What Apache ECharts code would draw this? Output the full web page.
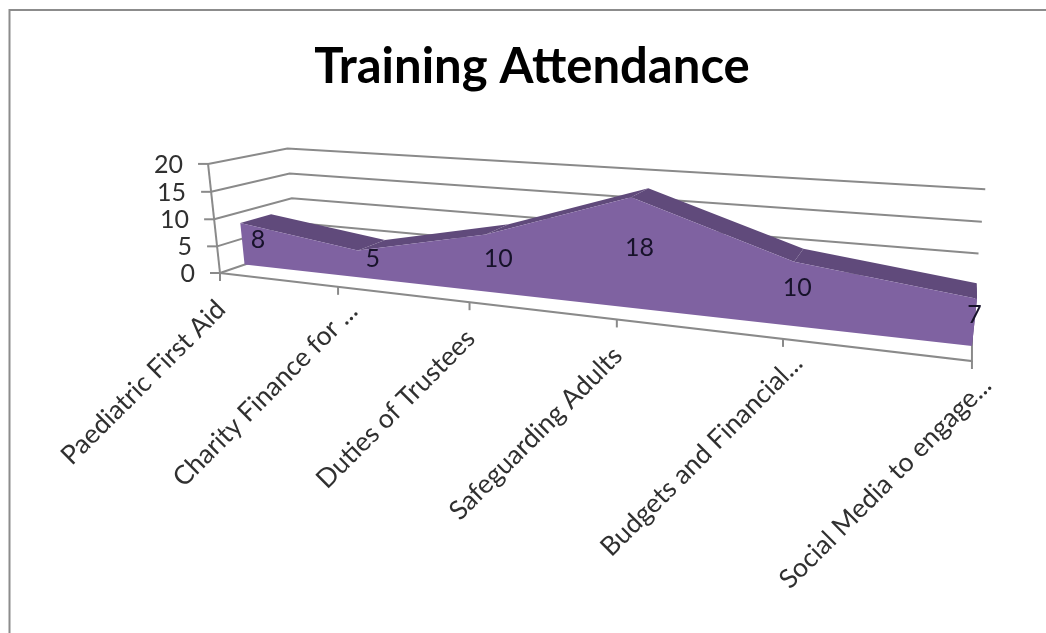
<!DOCTYPE html>
<html>
<head>
<meta charset="utf-8">
<title>Training Attendance</title>
<style>
  html, body { margin: 0; padding: 0; background: #fff; }
  #chart { width: 1046px; height: 633px; }
</style>
<script src="https://cdn.jsdelivr.net/npm/echarts@6/dist/echarts.min.js"></script>
</head>
<body>
<div id="chart"></div>
<script>
const categories = [
  'Paediatric First Aid',
  'Charity Finance for ...',
  'Duties of Trustees',
  'Safeguarding Adults',
  'Budgets and Financial...',
  'Social Media to engage...'
]
const attendance = [8, 5, 10, 18, 10, 7]
const yTicks = [0, 5, 10, 15, 20]

const FONT = 'Lato, "Open Sans", sans-serif'
const LINE = '#8a8a8a'
const TEXT = '#303030'
const FRONT = '#7f62a1'
const TOP = '#604a7b'

// the area sits between these two depths of the box (0 = front, 1 = back)
const AREA_NEAR = 0.3
const AREA_FAR = 0.7
const AREA_MID = 0.5

// perspective camera of the 3D box: u across, d into the picture, v up, all 0..1
const cam = {
  x: [220, 504.1, 109.3, -18.2],
  y: [273, -4.05, 1.69, -114],
  w: [1, -0.255, 0.1124, -0.03]
}

const project = (u, d, v) => {
  const dot = (c) => c[0] + c[1] * u + c[2] * d + c[3] * v
  const w = dot(cam.w)
  return [dot(cam.x) / w, dot(cam.y) / w]
}

// hidden grid gives the scales, the result is then pushed through the camera
const place = (params, api, index, value, d) => {
  const p = api.coord([index, value])
  const sys = params.coordSys
  return project((p[0] - sys.x) / sys.width, d, (sys.y + sys.height - p[1]) / sys.height)
}

const stroke = { stroke: LINE, lineWidth: 2, fill: null }

const renderWalls = (params, api) => {
  const value = api.value(1)
  const last = categories.length - 1
  const start = place(params, api, 0, value, 0)
  const children = [
    {
      type: 'polyline',
      shape: {
        points: [start, place(params, api, 0, value, 1), place(params, api, last, value, 1)]
      },
      style: stroke
    },
    {
      type: 'line',
      shape: { x1: start[0] - 10, y1: start[1], x2: start[0], y2: start[1] },
      style: stroke
    },
    {
      type: 'text',
      style: {
        text: String(value),
        x: start[0] - 25,
        y: start[1] + 1,
        align: 'right',
        verticalAlign: 'middle',
        font: '25px ' + FONT,
        fill: TEXT
      }
    }
  ]
  if (params.dataIndex === 0) {
    const top = place(params, api, 0, yTicks[yTicks.length - 1], 0)
    const right = place(params, api, last, 0, 0)
    children.push(
      { type: 'polyline', shape: { points: [top, start] }, style: stroke },
      { type: 'polyline', shape: { points: [start, right, place(params, api, last, 0, 1)] }, style: stroke }
    )
  }
  return { type: 'group', children }
}

const renderCategory = (params, api) => {
  const i = api.value(0)
  const foot = place(params, api, i, 0, 0)
  // cut-off names run a little further along the slant
  const cut = categories[i].endsWith('...')
  return {
    type: 'group',
    children: [
      {
        type: 'line',
        shape: { x1: foot[0], y1: foot[1], x2: foot[0], y2: foot[1] + 8 },
        style: stroke
      },
      {
        type: 'text',
        x: foot[0] + (cut ? 15 : 1),
        y: foot[1] + (cut ? 20 : 32),
        rotation: Math.PI / 4,
        style: {
          text: categories[i],
          x: 0,
          y: 0,
          align: 'right',
          verticalAlign: 'middle',
          font: '26.5px ' + FONT,
          fill: TEXT
        }
      }
    ]
  }
}

const renderArea = (params, api) => {
  const i = api.value(0)
  const last = attendance.length - 1
  const children = []
  // draw everything once, on the first item, so the front face stays on top
  if (i !== 0) return { type: 'group', children }
  attendance.forEach((value, k) => {
    if (k === last) return
    const next = attendance[k + 1]
    children.push({
      type: 'polygon',
      shape: {
        points: [
          place(params, api, k, value, AREA_NEAR),
          place(params, api, k, value, AREA_FAR),
          place(params, api, k + 1, next, AREA_FAR),
          place(params, api, k + 1, next, AREA_NEAR)
        ]
      },
      style: { fill: TOP }
    })
  })
  children.push({
    type: 'polygon',
    shape: {
      points: [
        place(params, api, last, 0, AREA_NEAR),
        place(params, api, last, attendance[last], AREA_NEAR),
        place(params, api, last, attendance[last], AREA_FAR),
        place(params, api, last, 0, AREA_FAR)
      ]
    },
    style: { fill: TOP }
  })
  const front = attendance.map((value, k) => place(params, api, k, value, AREA_NEAR))
  front.push(place(params, api, last, 0, AREA_NEAR), place(params, api, 0, 0, AREA_NEAR))
  children.push({ type: 'polygon', shape: { points: front }, style: { fill: FRONT } })
  return { type: 'group', children }
}

const renderLabel = (params, api) => {
  const value = api.value(1)
  const p = place(params, api, api.value(0), value / 2, AREA_MID)
  return {
    type: 'text',
    style: {
      text: String(value),
      x: p[0],
      y: p[1] + 1,
      align: 'center',
      verticalAlign: 'middle',
      font: '25px ' + FONT,
      fill: '#17122a'
    }
  }
}

const chart = echarts.init(document.getElementById('chart'))
const points = attendance.map((value, i) => [i, value])

chart.setOption({
  animation: false,
  backgroundColor: '#ffffff',
  title: {
    text: 'Training Attendance',
    left: 527,
    top: 38,
    textAlign: 'center',
    textStyle: { fontFamily: FONT, fontSize: 49, fontWeight: 'bold', color: '#000000' }
  },
  graphic: [
    {
      type: 'polyline',
      shape: { points: [[9.5, 633], [9.5, 10], [1046, 10]] },
      style: { stroke: '#8c8c8c', lineWidth: 2, fill: null },
      silent: true
    }
  ],
  // the grid is only the scale, what is drawn goes through the camera
  grid: { left: 100, right: 100, top: 100, bottom: 100 },
  xAxis: { type: 'category', data: categories, boundaryGap: false, show: false },
  yAxis: { type: 'value', min: 0, max: 20, interval: 5, show: false },
  series: [
    { type: 'custom', name: 'walls', silent: true, renderItem: renderWalls, data: yTicks.map((v) => [0, v]), z: 1 },
    { type: 'custom', name: 'categories', silent: true, renderItem: renderCategory, data: points, z: 2 },
    { type: 'custom', name: 'Attendance', silent: true, renderItem: renderArea, data: points, z: 3 },
    { type: 'custom', name: 'labels', silent: true, renderItem: renderLabel, data: points, z: 4 }
  ]
})
</script>
</body>
</html>
